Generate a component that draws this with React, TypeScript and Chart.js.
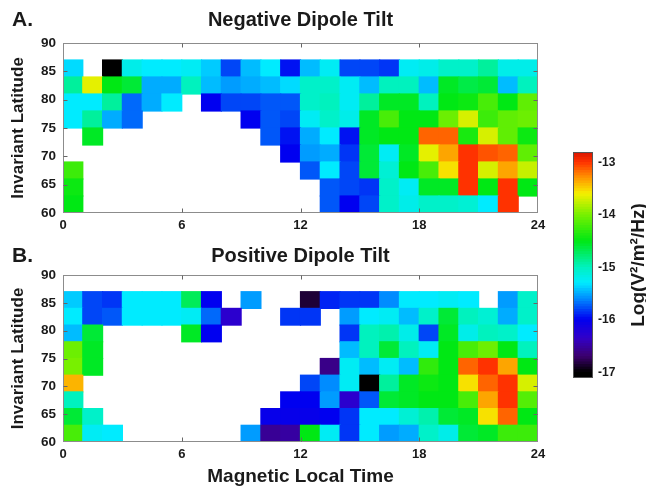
import React, { useEffect, useRef } from "react";
import { Chart, registerables } from "chart.js";

Chart.register(...registerables);

// ---------- categories / ticks ----------
const MLT_HOURS = [0, 1, 2, 3, 4, 5, 6, 7, 8, 9, 10, 11, 12, 13, 14, 15, 16, 17, 18, 19, 20, 21, 22, 23];
const LAT_BINS = [60, 63, 66, 69, 72, 75, 78, 81, 84];
const LAT_STEP = 3;
const X_TICKS = [0, 6, 12, 18, 24];
const Y_TICKS = [60, 65, 70, 75, 80, 85, 90];
const CBAR_TICKS = [-17, -16, -15, -14, -13];

// ---------- A. Negative dipole tilt, Log(V²/m²/Hz), one array per 3° latitude bin ----------
const NEG_60_63 = [-14.5, null, null, null, null, null, null, null, null, null, null, null, null, -15.75, -16.0, -15.8, -15.05, -15.2, -15.05, -15.05, -15.1, -15.3, -13.0, null];
const NEG_63_66 = [-14.45, null, null, null, null, null, null, null, null, null, null, null, null, -15.75, -15.8, -15.85, -15.05, -15.25, -14.55, -14.55, -13.0, -14.5, -13.0, -14.5];
const NEG_66_69 = [-14.25, null, null, null, null, null, null, null, null, null, null, null, -15.75, -15.3, -15.8, -14.6, -15.1, -14.5, -14.2, -13.55, -13.0, -13.7, -13.35, -13.75];
const NEG_69_72 = [null, null, null, null, null, null, null, null, null, null, null, -16.0, -15.55, -15.5, -15.85, -14.6, -15.25, -14.55, -13.65, -13.35, -13.0, -13.1, -13.15, -14.1];
const NEG_72_75 = [null, -14.55, null, null, null, null, null, null, null, null, -15.75, -15.95, -15.5, -15.3, -15.95, -14.55, -14.5, -14.5, -13.15, -13.15, -14.4, -13.7, -14.1, -14.45];
const NEG_75_78 = [-15.3, -14.9, -15.5, -15.7, null, null, null, null, null, -16.0, -15.75, -15.8, -15.25, -15.05, -15.2, -14.55, -14.2, -14.5, -14.5, -14.05, -13.7, -14.25, -14.1, -14.05];
const NEG_78_81 = [-15.3, -15.3, -14.9, -15.7, -15.5, -15.3, null, -16.0, -15.8, -15.8, -15.75, -15.75, -15.05, -15.0, -15.25, -14.9, -14.55, -14.55, -15.0, -14.5, -14.45, -14.2, -14.5, -14.1];
const NEG_81_84 = [-14.9, -13.65, -14.5, -14.6, -15.5, -15.5, -15.0, -15.45, -15.55, -15.5, -15.45, -15.35, -15.05, -15.05, -15.25, -15.45, -15.0, -15.0, -15.45, -14.55, -14.65, -14.6, -15.45, -15.0];
const NEG_84_87 = [-15.35, null, -17.0, -15.2, -15.3, -15.3, -15.25, -15.4, -15.8, -15.45, -15.3, -15.95, -15.45, -15.25, -15.8, -15.8, -15.85, -15.25, -15.2, -15.05, -15.05, -14.9, -15.2, -15.2];

// ---------- B. Positive dipole tilt ----------
const POS_60_63 = [-14.2, -15.25, -15.3, null, null, null, null, null, null, -15.55, -16.55, -16.5, -14.5, -15.25, -15.85, -15.3, -15.55, -15.5, -15.05, -15.2, -14.6, -14.55, -14.25, -14.25];
const POS_63_66 = [-14.6, -15.05, null, null, null, null, null, null, null, null, -16.05, -16.05, -16.05, -16.0, -15.85, -15.3, -15.3, -15.1, -14.95, -14.6, -14.55, -13.55, -13.15, -14.5];
const POS_66_69 = [-15.0, null, null, null, null, null, null, null, null, null, null, -16.0, -16.0, -15.55, -16.3, -15.75, -14.6, -14.55, -14.5, -14.5, -14.2, -13.35, -13.0, -14.15];
const POS_69_72 = [-13.4, null, null, null, null, null, null, null, null, null, null, null, -15.8, -15.6, -15.25, -17.0, -14.9, -14.55, -14.45, -14.5, -13.55, -13.15, -13.0, -13.7];
const POS_72_75 = [-14.0, -14.55, null, null, null, null, null, null, null, null, null, null, null, -16.6, -15.25, -15.45, -15.25, -15.45, -14.3, -14.5, -13.15, -13.0, -13.35, -14.5];
const POS_75_78 = [-14.05, -14.55, null, null, null, null, null, null, null, null, null, null, null, null, -15.45, -15.0, -14.6, -15.0, -15.25, -14.5, -14.2, -14.05, -14.5, -15.0];
const POS_78_81 = [-15.45, -14.6, null, null, null, null, -14.55, -16.0, null, null, null, null, null, null, -15.85, -15.0, -14.95, -15.2, -15.8, -14.55, -15.2, -15.0, -15.05, -15.3];
const POS_81_84 = [-15.3, -15.8, -15.75, -15.3, -15.3, -15.3, -15.25, -15.7, -16.3, null, null, -15.85, -15.85, null, -15.55, -15.3, -15.25, -15.45, -15.05, -14.6, -15.0, -15.1, -15.5, -15.05];
const POS_84_87 = [-15.4, -15.8, -15.85, -15.3, -15.3, -15.3, -14.7, -16.0, null, -15.55, null, null, -16.85, -15.9, -15.85, -15.85, -15.6, -15.3, -15.3, -15.25, -15.3, null, -15.55, -15.05];

const NEG_ROWS = [NEG_60_63, NEG_63_66, NEG_66_69, NEG_69_72, NEG_72_75, NEG_75_78, NEG_78_81, NEG_81_84, NEG_84_87];
const POS_ROWS = [POS_60_63, POS_63_66, POS_66_69, POS_69_72, POS_72_75, POS_75_78, POS_78_81, POS_81_84, POS_84_87];

const CBAR_MIN = -17.1;
const CBAR_MAX = -12.8;
const CBAR_STEP = 0.05;

// ---------- colour map (style) ----------
const STOPS: [number, [number, number, number]][] = [
  [-17.0, [0, 0, 0]],
  [-16.7, [60, 0, 110]],
  [-16.35, [50, 0, 200]],
  [-16.0, [0, 0, 240]],
  [-15.6, [0, 140, 255]],
  [-15.3, [0, 235, 255]],
  [-15.0, [0, 242, 190]],
  [-14.5, [0, 232, 20]],
  [-14.0, [120, 240, 0]],
  [-13.6, [245, 240, 0]],
  [-13.3, [255, 150, 0]],
  [-13.0, [255, 50, 0]],
  [-12.8, [215, 20, 0]],
];

function colorFor(v: number | undefined): string {
  if (v === undefined || v === null) return "rgba(0,0,0,0)";
  if (v <= STOPS[0][0]) return "rgb(0,0,0)";
  for (let i = 1; i < STOPS.length; i++) {
    if (v <= STOPS[i][0]) {
      const [a, ca] = STOPS[i - 1];
      const [b, cb] = STOPS[i];
      const t = (v - a) / (b - a);
      const c = ca.map((x, k) => Math.round(x + (cb[k] - x) * t));
      return `rgb(${c[0]},${c[1]},${c[2]})`;
    }
  }
  const c = STOPS[STOPS.length - 1][1];
  return `rgb(${c[0]},${c[1]},${c[2]})`;
}

const FONT = "'Liberation Sans', Arial, Helvetica, sans-serif";
const TEXT = "#1a1a1a";
const FRAME = "#8c8c8c";

// frame around the plot area with small inward tick marks at the axis ticks
const framePlugin = {
  id: "frame",
  afterDatasetsDraw(chart: any, _a: any, opts: any) {
    const { ctx, chartArea } = chart;
    const l = Math.round(chartArea.left) + 0.5;
    const t = Math.round(chartArea.top) + 0.5;
    const r = Math.round(chartArea.right) - 0.5;
    const b = Math.round(chartArea.bottom) - 0.5;
    ctx.save();
    ctx.strokeStyle = opts.color || FRAME;
    ctx.lineWidth = 1;
    ctx.strokeRect(l, t, r - l, b - t);
    if (opts.ticks) {
      const len = 4;
      ctx.strokeStyle = "#666";
      ctx.beginPath();
      const xs = chart.scales.x;
      if (xs && xs.ticks) {
        xs.ticks.forEach((tk: any) => {
          const px = Math.round(xs.getPixelForValue(tk.value)) + 0.5;
          if (px <= l + 1 || px >= r - 1) return;
          ctx.moveTo(px, b);
          ctx.lineTo(px, b - len);
          ctx.moveTo(px, t);
          ctx.lineTo(px, t + len);
        });
      }
      const ys = chart.scales.y;
      if (ys && ys.ticks) {
        ys.ticks.forEach((tk: any) => {
          const py = Math.round(ys.getPixelForValue(tk.value)) + 0.5;
          if (py <= t + 1 || py >= b - 1) return;
          ctx.moveTo(l, py);
          ctx.lineTo(l + len, py);
          ctx.moveTo(r, py);
          ctx.lineTo(r - len, py);
        });
      }
      ctx.stroke();
    }
    ctx.restore();
  },
};

const letterPlugin = {
  id: "letter",
  afterDraw(chart: any, _a: any, opts: any) {
    if (!opts || !opts.text) return;
    const { ctx } = chart;
    ctx.save();
    ctx.fillStyle = TEXT;
    ctx.font = `bold ${opts.size || 20}px ${FONT}`;
    ctx.textAlign = "left";
    ctx.textBaseline = "middle";
    ctx.fillText(opts.text, opts.x, opts.y);
    ctx.restore();
  },
};

const cbarLabelPlugin = {
  id: "cbarLabel",
  afterDraw(chart: any, _a: any, opts: any) {
    if (!opts || !opts.text) return;
    const { ctx, chartArea } = chart;
    ctx.save();
    ctx.fillStyle = TEXT;
    ctx.font = `bold ${opts.size}px ${FONT}`;
    ctx.translate(opts.x, (chartArea.top + chartArea.bottom) / 2);
    ctx.rotate(-Math.PI / 2);
    ctx.textAlign = "center";
    ctx.textBaseline = "middle";
    ctx.fillText(opts.text, 0, 0);
    ctx.restore();
  },
};

function rowsToDatasets(rows: (number | null)[][]) {
  return rows.map((vals, r) => ({
    data: vals.flatMap((v, c) =>
      v === null ? [] : [{ x: MLT_HOURS[c] + 0.5, y: [LAT_BINS[r], LAT_BINS[r] + LAT_STEP], v }]
    ),
    backgroundColor: (ctx: any) => colorFor(ctx.raw ? ctx.raw.v : undefined),
    borderWidth: 0,
    grouped: false,
    barPercentage: 1,
    categoryPercentage: 1,
    inflateAmount: 0.6,
  }));
}

function panelConfig(p: {
  title: string;
  letter: string;
  rows: (number | null)[][];
  titlePad: { top: number; bottom: number };
  xAxisHeight: number;
  xTitle?: string;
  letterY: number;
}): any {
  return {
    type: "bar",
    data: { datasets: rowsToDatasets(p.rows) },
    options: {
      animation: false,
      responsive: false,
      devicePixelRatio: 1,
      indexAxis: "x",
      layout: { padding: { left: 0, right: 22, top: 0, bottom: 0 } },
      plugins: {
        legend: { display: false },
        tooltip: { enabled: false },
        title: {
          display: true,
          text: p.title,
          fullSize: false,
          color: TEXT,
          font: { family: FONT, size: 20, weight: "bold", lineHeight: 1.2 },
          padding: p.titlePad,
        },
        frame: { color: FRAME, ticks: true },
        letter: { text: p.letter, x: 12, y: p.letterY, size: 21 },
      },
      scales: {
        x: {
          type: "linear",
          min: 0,
          max: 24,
          offset: false,
          grid: { display: false, offset: false, drawTicks: false },
          border: { display: false },
          afterBuildTicks: (s: any) => {
            s.ticks = X_TICKS.map((v) => ({ value: v }));
          },
          afterFit: (s: any) => {
            s.height = p.xAxisHeight;
          },
          ticks: {
            color: TEXT,
            font: { family: FONT, size: 13, weight: "bold" },
            padding: 5,
            maxRotation: 0,
            autoSkip: false,
          },
          title: p.xTitle
            ? {
                display: true,
                text: p.xTitle,
                color: TEXT,
                font: { family: FONT, size: 19, weight: "bold", lineHeight: 1.2 },
                padding: { top: 0, bottom: 0 },
              }
            : { display: false },
        },
        y: {
          type: "linear",
          min: 60,
          max: 90,
          grid: { display: false, drawTicks: false },
          border: { display: false },
          afterBuildTicks: (s: any) => {
            s.ticks = Y_TICKS.map((v) => ({ value: v }));
          },
          afterFit: (s: any) => {
            s.width = 63;
          },
          ticks: {
            color: TEXT,
            font: { family: FONT, size: 13.5, weight: "bold" },
            padding: 7,
            autoSkip: false,
          },
          title: {
            display: true,
            text: "Invariant Latitude",
            color: TEXT,
            font: { family: FONT, size: 17, weight: "bold", lineHeight: 1.2 },
            padding: { top: 8, bottom: 0 },
          },
        },
      },
    },
    plugins: [framePlugin, letterPlugin],
  };
}

function colorbarConfig(): any {
  const segs: number[] = [];
  for (let v = CBAR_MIN; v < CBAR_MAX - 1e-9; v += CBAR_STEP) segs.push(v);
  return {
    type: "bar",
    data: {
      labels: ["scale"],
      datasets: segs.map((v) => ({
        data: [[v, Math.min(v + CBAR_STEP + 0.002, CBAR_MAX)]],
        backgroundColor: colorFor(v + CBAR_STEP / 2),
        borderWidth: 0,
        grouped: false,
        barPercentage: 1,
        categoryPercentage: 1,
        inflateAmount: 0.5,
      })),
    },
    options: {
      animation: false,
      responsive: false,
      devicePixelRatio: 1,
      layout: { padding: { left: 13, right: 0, top: 10, bottom: 12 } },
      plugins: {
        legend: { display: false },
        tooltip: { enabled: false },
        frame: { color: "#555", ticks: false },
        cbarLabel: { text: "Log(V²/m²/Hz)", x: 79, size: 19 },
      },
      scales: {
        x: { display: false, offset: true },
        y: {
          type: "linear",
          position: "right",
          min: CBAR_MIN,
          max: CBAR_MAX,
          grid: { display: false, drawTicks: false },
          border: { display: false },
          afterBuildTicks: (s: any) => {
            s.ticks = CBAR_TICKS.map((v) => ({ value: v }));
          },
          afterFit: (s: any) => {
            s.width = 53;
          },
          ticks: {
            color: TEXT,
            font: { family: FONT, size: 12, weight: "bold" },
            padding: 5,
            callback: (v: any) => String(v),
          },
        },
      },
    },
    plugins: [framePlugin, cbarLabelPlugin],
  };
}

function ChartCanvas(props: { config: () => any; left: number; top: number; width: number; height: number }) {
  const ref = useRef<HTMLCanvasElement | null>(null);
  useEffect(() => {
    if (!ref.current) return;
    const chart = new Chart(ref.current, props.config());
    return () => chart.destroy();
  }, []);
  return (
    <canvas
      ref={ref}
      width={props.width}
      height={props.height}
      style={{ position: "absolute", left: props.left, top: props.top, width: props.width, height: props.height }}
    />
  );
}

export default function App() {
  return (
    <div style={{ position: "fixed", left: 0, top: 0, width: 646, height: 488, background: "#fff", overflow: "hidden" }}>
      <ChartCanvas
        left={0}
        top={0}
        width={560}
        height={244}
        config={() =>
          panelConfig({
            title: "Negative Dipole Tilt",
            letter: "A.",
            rows: NEG_ROWS,
            titlePad: { top: 8, bottom: 11 },
            xAxisHeight: 31,
            letterY: 20,
          })
        }
      />
      <ChartCanvas
        left={0}
        top={244}
        width={560}
        height={244}
        config={() =>
          panelConfig({
            title: "Positive Dipole Tilt",
            letter: "B.",
            rows: POS_ROWS,
            titlePad: { top: 0, bottom: 7 },
            xAxisHeight: 46,
            xTitle: "Magnetic Local Time",
            letterY: 12,
          })
        }
      />
      <ChartCanvas left={560} top={140} width={86} height={250} config={colorbarConfig} />
    </div>
  );
}
